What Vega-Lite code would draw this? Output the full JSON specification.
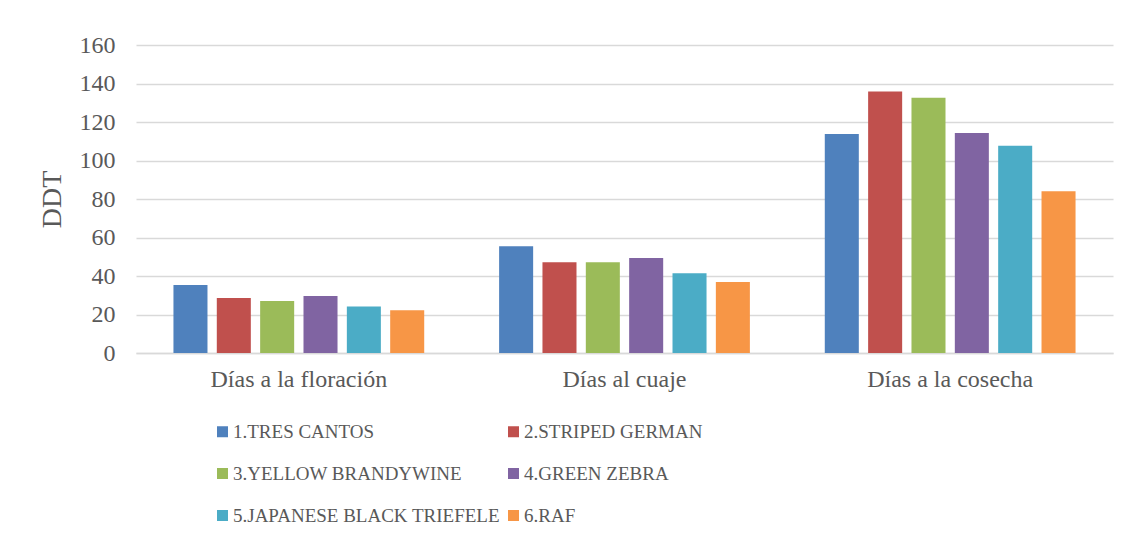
{
  "$schema": "https://vega.github.io/schema/vega-lite/v6.json",
  "width": 977,
  "height": 308,
  "autosize": {"type": "none"},
  "padding": {"left": 136, "top": 45, "right": 17, "bottom": 190},
  "background": "white",
  "config": {
    "view": {"stroke": null},
    "font": "Liberation Serif"
  },
  "data": {
    "values": [
      {"etapa": "Días a la floración", "variedad": "1.TRES CANTOS", "ddt": 35.3},
      {"etapa": "Días a la floración", "variedad": "2.STRIPED GERMAN", "ddt": 28.6},
      {"etapa": "Días a la floración", "variedad": "3.YELLOW BRANDYWINE", "ddt": 27.0},
      {"etapa": "Días a la floración", "variedad": "4.GREEN ZEBRA", "ddt": 29.6},
      {"etapa": "Días a la floración", "variedad": "5.JAPANESE BLACK TRIEFELE", "ddt": 24.1},
      {"etapa": "Días a la floración", "variedad": "6.RAF", "ddt": 22.2},
      {"etapa": "Días al cuaje", "variedad": "1.TRES CANTOS", "ddt": 55.4},
      {"etapa": "Días al cuaje", "variedad": "2.STRIPED GERMAN", "ddt": 47.1},
      {"etapa": "Días al cuaje", "variedad": "3.YELLOW BRANDYWINE", "ddt": 47.1},
      {"etapa": "Días al cuaje", "variedad": "4.GREEN ZEBRA", "ddt": 49.4},
      {"etapa": "Días al cuaje", "variedad": "5.JAPANESE BLACK TRIEFELE", "ddt": 41.4},
      {"etapa": "Días al cuaje", "variedad": "6.RAF", "ddt": 36.9},
      {"etapa": "Días a la cosecha", "variedad": "1.TRES CANTOS", "ddt": 113.8},
      {"etapa": "Días a la cosecha", "variedad": "2.STRIPED GERMAN", "ddt": 135.9},
      {"etapa": "Días a la cosecha", "variedad": "3.YELLOW BRANDYWINE", "ddt": 132.6},
      {"etapa": "Días a la cosecha", "variedad": "4.GREEN ZEBRA", "ddt": 114.3},
      {"etapa": "Días a la cosecha", "variedad": "5.JAPANESE BLACK TRIEFELE", "ddt": 107.7},
      {"etapa": "Días a la cosecha", "variedad": "6.RAF", "ddt": 84.0}
    ]
  },
  "mark": {"type": "bar"},
  "encoding": {
    "x": {
      "field": "etapa",
      "type": "nominal",
      "sort": ["Días a la floración", "Días al cuaje", "Días a la cosecha"],
      "scale": {"paddingInner": 0.23, "paddingOuter": 0.115},
      "axis": {
        "title": null,
        "labelAngle": 0,
        "labelFont": "Liberation Serif",
        "labelFontSize": 24,
        "labelColor": "#595959",
        "labelPadding": 14,
        "ticks": false,
        "domainColor": "#d9d9d9",
        "domainWidth": 1.5
      }
    },
    "xOffset": {
      "field": "variedad",
      "type": "nominal",
      "scale": {"paddingInner": 0.215, "paddingOuter": 0}
    },
    "y": {
      "field": "ddt",
      "type": "quantitative",
      "scale": {"domain": [0, 160], "nice": false},
      "axis": {
        "title": "DDT",
        "titleFont": "Liberation Serif",
        "titleFontSize": 28,
        "titleFontWeight": "normal",
        "titleColor": "#595959",
        "titlePadding": 13,
        "values": [0, 20, 40, 60, 80, 100, 120, 140, 160],
        "labelFont": "Liberation Serif",
        "labelFontSize": 24,
        "labelColor": "#595959",
        "labelPadding": 21,
        "ticks": false,
        "domain": false,
        "gridColor": "#d9d9d9",
        "gridWidth": 1.5
      }
    },
    "color": {
      "field": "variedad",
      "type": "nominal",
      "scale": {
        "domain": ["1.TRES CANTOS", "2.STRIPED GERMAN", "3.YELLOW BRANDYWINE", "4.GREEN ZEBRA", "5.JAPANESE BLACK TRIEFELE", "6.RAF"],
        "range": ["#4F81BD", "#C0504D", "#9BBB59", "#8064A2", "#4BACC6", "#F79646"]
      },
      "legend": {
        "title": null,
        "orient": "none",
        "legendX": 77,
        "legendY": 377,
        "direction": "horizontal",
        "columns": 2,
        "columnPadding": 4,
        "rowPadding": 22,
        "symbolType": "square",
        "symbolSize": 121,
        "symbolStrokeWidth": 0,
        "labelFont": "Liberation Serif",
        "labelFontSize": 19,
        "labelColor": "#595959",
        "labelOffset": 1,
        "labelLimit": 400
      }
    }
  }
}
